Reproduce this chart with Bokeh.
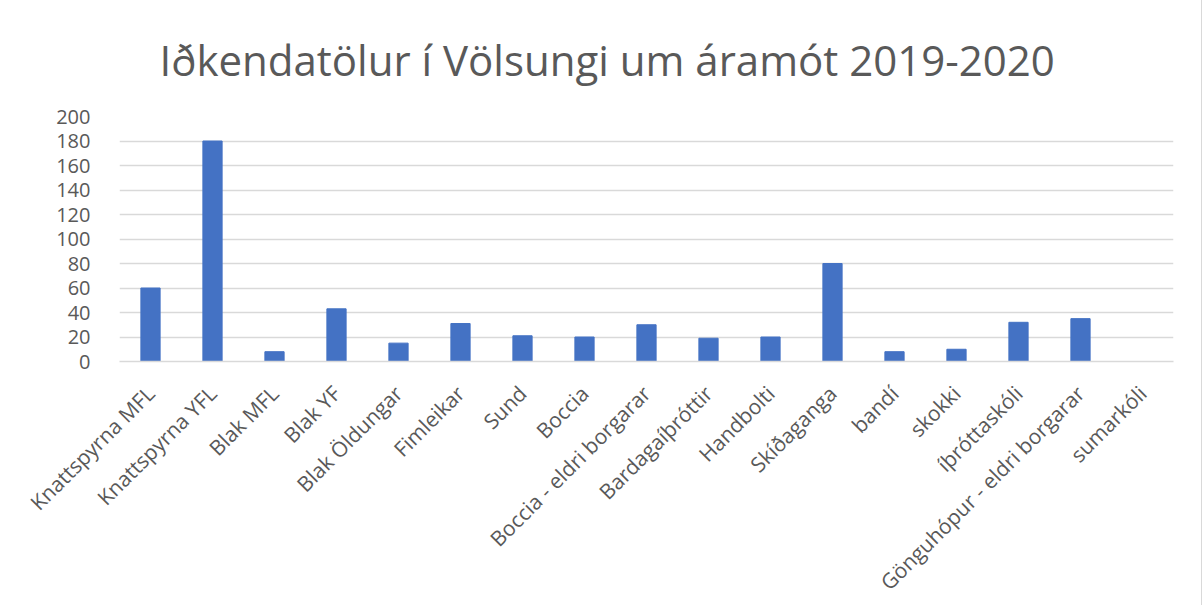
import math
from bokeh.plotting import figure
from bokeh.models import Range1d, FixedTicker
from bokeh.embed import file_html
from bokeh.resources import INLINE

categories = ["Knattspyrna MFL", "Knattspyrna YFL", "Blak MFL", "Blak YF", "Blak Öldungar",
              "Fimleikar", "Sund", "Boccia", "Boccia - eldri borgarar", "Bardagaíþróttir",
              "Handbolti", "Skíðaganga", "bandí", "skokki", "íþróttaskóli",
              "Gönguhópur - eldri borgarar", "sumarkóli"]
values = [60, 180, 8, 43, 15, 31, 21, 20, 30, 19, 20, 80, 8, 10, 32, 35, 0]
y_ticks = [0, 20, 40, 60, 80, 100, 120, 140, 160, 180, 200]
title_text = "Iðkendatölur í Völsungi um áramót 2019-2020"

p = figure(x_range=categories, y_range=Range1d(0, 200),
           frame_width=1054, frame_height=245,
           min_border_left=119, min_border_right=25, min_border_top=116, min_border_bottom=244,
           output_backend="svg", toolbar_location=None, title=title_text)

p.vbar(x=categories, top=values, width=0.31, fill_color="#4472c4", line_color="#4472c4")

p.title.text_font = "Open Sans"
p.title.text_font_size = "42px"
p.title.text_font_style = "normal"
p.title.text_color = "#595959"
p.title.align = "left"
p.title.offset = 40
p.title.standoff = 57

p.yaxis.ticker = FixedTicker(ticks=y_ticks)
p.yaxis.axis_line_color = None
p.yaxis.major_tick_line_color = None
p.yaxis.minor_tick_line_color = None
p.yaxis.major_label_text_font = "Open Sans"
p.yaxis.major_label_text_font_size = "20px"
p.yaxis.major_label_text_color = "#595959"
p.yaxis.major_label_standoff = 23

p.xaxis.axis_line_color = "#d9d9d9"
p.xaxis.axis_line_width = 1.5
p.xaxis.major_tick_line_color = None
p.xaxis.minor_tick_line_color = None
p.xaxis.major_label_orientation = math.pi / 4
p.xaxis.major_label_text_font = "Open Sans"
p.xaxis.major_label_text_font_size = "21px"
p.xaxis.major_label_text_color = "#595959"
p.xaxis.major_label_standoff = 22

p.xgrid.grid_line_color = None
p.ygrid.grid_line_color = "#d9d9d9"
p.ygrid.grid_line_width = 1.5
p.outline_line_color = None
p.background_fill_color = "white"
p.border_fill_color = "white"
p.styles = {"outline": "1px solid #d9d9d9", "outline-offset": "3px"}

open("out.html", "w").write(file_html(p, INLINE))
